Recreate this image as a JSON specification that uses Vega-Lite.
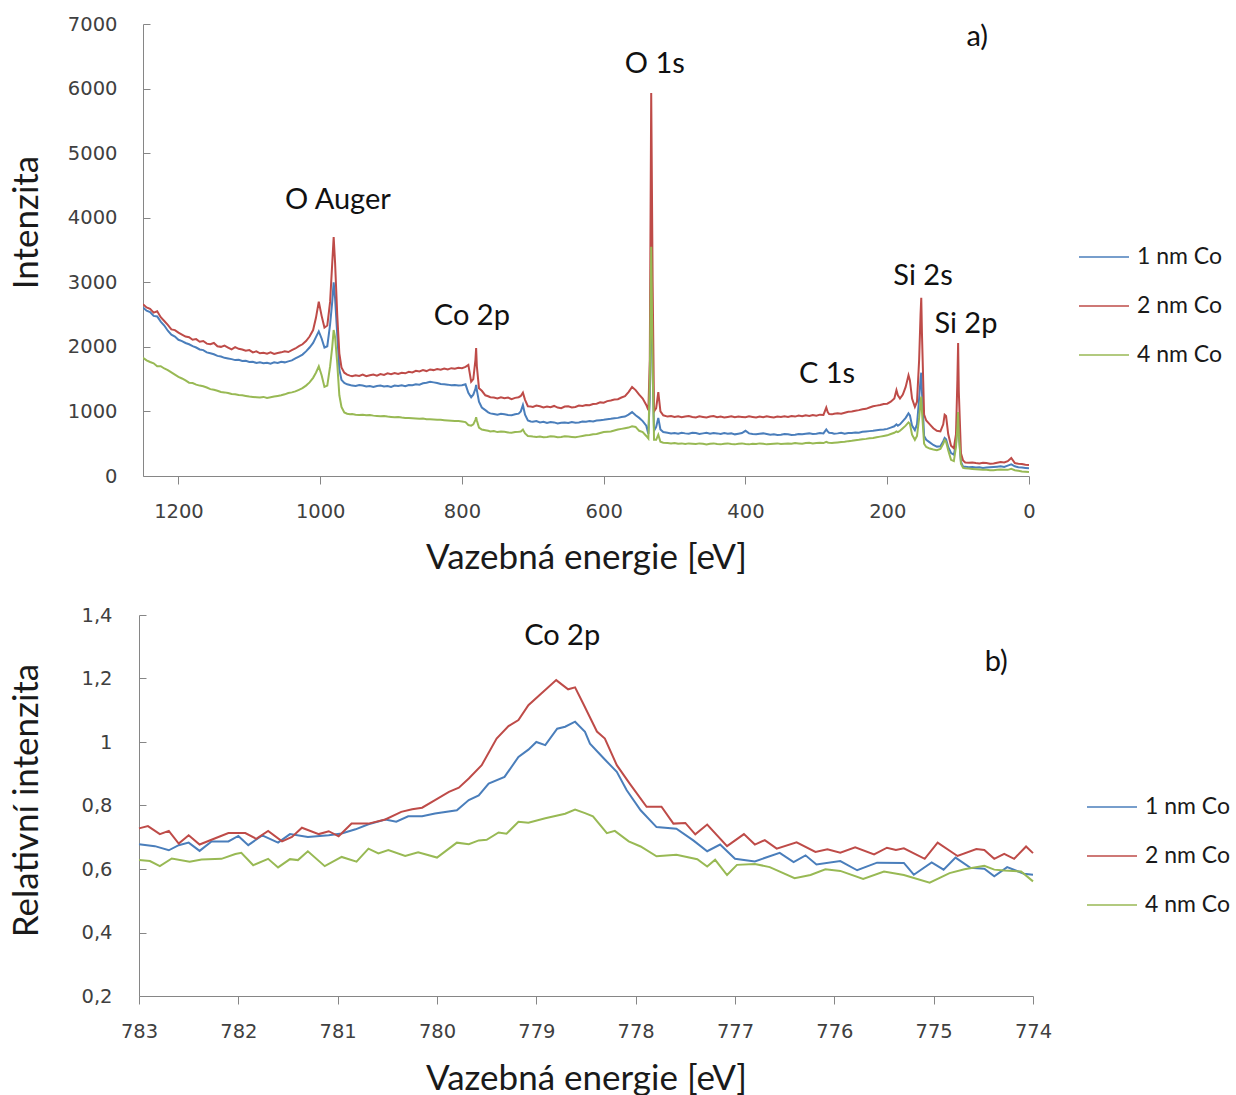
{
  "$schema": "https://vega.github.io/schema/vega-lite/v6.json",
  "background": "white",
  "padding": {"left": 8, "top": 14, "right": 0, "bottom": 0},
  "config": {
    "view": {"stroke": null},
    "axis": {
      "grid": false,
      "domainColor": "#868686",
      "tickColor": "#868686",
      "labelFont": "DejaVu Sans",
      "labelFontSize": 19.5,
      "labelColor": "#404040",
      "labelFlush": false,
      "labelOverlap": false,
      "titleFont": "Lato",
      "titleFontSize": 35,
      "titleFontWeight": "normal",
      "titleColor": "#1a1a1a"
    },
    "legend": {
      "orient": "none",
      "title": null,
      "symbolType": "stroke",
      "symbolSize": 2500,
      "symbolStrokeWidth": 1.6,
      "labelFont": "Lato",
      "labelFontSize": 23,
      "labelColor": "#1a1a1a",
      "labelOffset": 7,
      "rowPadding": 11
    }
  },
  "vconcat": [
    {
      "width": 886,
      "height": 452,
      "layer": [
        {
          "data": {"values": [
            {"e":1250,"1 nm Co":2610,"2 nm Co":2660,"4 nm Co":1830},
            {"e":1245,"1 nm Co":2560,"2 nm Co":2610,"4 nm Co":1790},
            {"e":1240,"1 nm Co":2540,"2 nm Co":2590,"4 nm Co":1765},
            {"e":1235,"1 nm Co":2480,"2 nm Co":2530,"4 nm Co":1745},
            {"e":1230,"1 nm Co":2470,"2 nm Co":2550,"4 nm Co":1700},
            {"e":1225,"1 nm Co":2390,"2 nm Co":2460,"4 nm Co":1700},
            {"e":1220,"1 nm Co":2330,"2 nm Co":2400,"4 nm Co":1665},
            {"e":1215,"1 nm Co":2250,"2 nm Co":2340,"4 nm Co":1640},
            {"e":1210,"1 nm Co":2190,"2 nm Co":2270,"4 nm Co":1605},
            {"e":1205,"1 nm Co":2160,"2 nm Co":2260,"4 nm Co":1570},
            {"e":1200,"1 nm Co":2110,"2 nm Co":2220,"4 nm Co":1535},
            {"e":1195,"1 nm Co":2090,"2 nm Co":2190,"4 nm Co":1510},
            {"e":1190,"1 nm Co":2060,"2 nm Co":2160,"4 nm Co":1480},
            {"e":1185,"1 nm Co":2040,"2 nm Co":2150,"4 nm Co":1445},
            {"e":1180,"1 nm Co":2010,"2 nm Co":2110,"4 nm Co":1440},
            {"e":1175,"1 nm Co":1990,"2 nm Co":2120,"4 nm Co":1415},
            {"e":1170,"1 nm Co":1960,"2 nm Co":2080,"4 nm Co":1400},
            {"e":1165,"1 nm Co":1950,"2 nm Co":2090,"4 nm Co":1390},
            {"e":1160,"1 nm Co":1915,"2 nm Co":2050,"4 nm Co":1370},
            {"e":1155,"1 nm Co":1900,"2 nm Co":2040,"4 nm Co":1345},
            {"e":1150,"1 nm Co":1885,"2 nm Co":2060,"4 nm Co":1335},
            {"e":1145,"1 nm Co":1860,"2 nm Co":2010,"4 nm Co":1320},
            {"e":1140,"1 nm Co":1850,"2 nm Co":2000,"4 nm Co":1300},
            {"e":1135,"1 nm Co":1830,"2 nm Co":2020,"4 nm Co":1295},
            {"e":1130,"1 nm Co":1820,"2 nm Co":1990,"4 nm Co":1285},
            {"e":1125,"1 nm Co":1810,"2 nm Co":1960,"4 nm Co":1270},
            {"e":1120,"1 nm Co":1795,"2 nm Co":1995,"4 nm Co":1265},
            {"e":1115,"1 nm Co":1800,"2 nm Co":1970,"4 nm Co":1255},
            {"e":1110,"1 nm Co":1780,"2 nm Co":1960,"4 nm Co":1250},
            {"e":1105,"1 nm Co":1785,"2 nm Co":1940,"4 nm Co":1240},
            {"e":1100,"1 nm Co":1765,"2 nm Co":1950,"4 nm Co":1230},
            {"e":1095,"1 nm Co":1770,"2 nm Co":1915,"4 nm Co":1225},
            {"e":1090,"1 nm Co":1750,"2 nm Co":1930,"4 nm Co":1220},
            {"e":1085,"1 nm Co":1760,"2 nm Co":1900,"4 nm Co":1215},
            {"e":1080,"1 nm Co":1745,"2 nm Co":1910,"4 nm Co":1225},
            {"e":1075,"1 nm Co":1755,"2 nm Co":1895,"4 nm Co":1210},
            {"e":1070,"1 nm Co":1740,"2 nm Co":1915,"4 nm Co":1220},
            {"e":1065,"1 nm Co":1760,"2 nm Co":1890,"4 nm Co":1230},
            {"e":1060,"1 nm Co":1750,"2 nm Co":1905,"4 nm Co":1240},
            {"e":1055,"1 nm Co":1770,"2 nm Co":1915,"4 nm Co":1250},
            {"e":1050,"1 nm Co":1760,"2 nm Co":1930,"4 nm Co":1265},
            {"e":1045,"1 nm Co":1775,"2 nm Co":1920,"4 nm Co":1285},
            {"e":1040,"1 nm Co":1790,"2 nm Co":1950,"4 nm Co":1295},
            {"e":1035,"1 nm Co":1820,"2 nm Co":1975,"4 nm Co":1310},
            {"e":1030,"1 nm Co":1850,"2 nm Co":2010,"4 nm Co":1335},
            {"e":1025,"1 nm Co":1880,"2 nm Co":2040,"4 nm Co":1360},
            {"e":1020,"1 nm Co":1930,"2 nm Co":2090,"4 nm Co":1400},
            {"e":1015,"1 nm Co":1990,"2 nm Co":2160,"4 nm Co":1450},
            {"e":1010,"1 nm Co":2060,"2 nm Co":2260,"4 nm Co":1520},
            {"e":1006,"1 nm Co":2150,"2 nm Co":2450,"4 nm Co":1600},
            {"e":1002,"1 nm Co":2240,"2 nm Co":2700,"4 nm Co":1700},
            {"e":998,"1 nm Co":2130,"2 nm Co":2480,"4 nm Co":1560},
            {"e":994,"1 nm Co":1990,"2 nm Co":2300,"4 nm Co":1380},
            {"e":990,"1 nm Co":2010,"2 nm Co":2330,"4 nm Co":1400},
            {"e":986,"1 nm Co":2350,"2 nm Co":2700,"4 nm Co":1700},
            {"e":983,"1 nm Co":2700,"2 nm Co":3300,"4 nm Co":2000},
            {"e":981,"1 nm Co":3000,"2 nm Co":3700,"4 nm Co":2260},
            {"e":979,"1 nm Co":2750,"2 nm Co":3300,"4 nm Co":2150},
            {"e":976,"1 nm Co":2200,"2 nm Co":2500,"4 nm Co":1750},
            {"e":973,"1 nm Co":1650,"2 nm Co":1900,"4 nm Co":1250},
            {"e":970,"1 nm Co":1490,"2 nm Co":1680,"4 nm Co":1070},
            {"e":966,"1 nm Co":1440,"2 nm Co":1600,"4 nm Co":985},
            {"e":962,"1 nm Co":1420,"2 nm Co":1570,"4 nm Co":965},
            {"e":958,"1 nm Co":1410,"2 nm Co":1555,"4 nm Co":955},
            {"e":955,"1 nm Co":1400,"2 nm Co":1545,"4 nm Co":960},
            {"e":950,"1 nm Co":1395,"2 nm Co":1560,"4 nm Co":950},
            {"e":945,"1 nm Co":1410,"2 nm Co":1550,"4 nm Co":945},
            {"e":940,"1 nm Co":1400,"2 nm Co":1570,"4 nm Co":950},
            {"e":935,"1 nm Co":1385,"2 nm Co":1545,"4 nm Co":940},
            {"e":930,"1 nm Co":1395,"2 nm Co":1560,"4 nm Co":945},
            {"e":925,"1 nm Co":1380,"2 nm Co":1570,"4 nm Co":935},
            {"e":920,"1 nm Co":1395,"2 nm Co":1555,"4 nm Co":930},
            {"e":915,"1 nm Co":1400,"2 nm Co":1580,"4 nm Co":925},
            {"e":910,"1 nm Co":1385,"2 nm Co":1565,"4 nm Co":930},
            {"e":905,"1 nm Co":1395,"2 nm Co":1590,"4 nm Co":920},
            {"e":900,"1 nm Co":1380,"2 nm Co":1575,"4 nm Co":915},
            {"e":895,"1 nm Co":1400,"2 nm Co":1595,"4 nm Co":910},
            {"e":890,"1 nm Co":1395,"2 nm Co":1580,"4 nm Co":915},
            {"e":885,"1 nm Co":1405,"2 nm Co":1600,"4 nm Co":905},
            {"e":880,"1 nm Co":1390,"2 nm Co":1590,"4 nm Co":900},
            {"e":875,"1 nm Co":1410,"2 nm Co":1615,"4 nm Co":900},
            {"e":870,"1 nm Co":1405,"2 nm Co":1605,"4 nm Co":895},
            {"e":865,"1 nm Co":1420,"2 nm Co":1630,"4 nm Co":890},
            {"e":860,"1 nm Co":1415,"2 nm Co":1620,"4 nm Co":885},
            {"e":855,"1 nm Co":1435,"2 nm Co":1640,"4 nm Co":890},
            {"e":850,"1 nm Co":1445,"2 nm Co":1625,"4 nm Co":880},
            {"e":845,"1 nm Co":1460,"2 nm Co":1650,"4 nm Co":880},
            {"e":840,"1 nm Co":1450,"2 nm Co":1640,"4 nm Co":875},
            {"e":835,"1 nm Co":1440,"2 nm Co":1655,"4 nm Co":870},
            {"e":830,"1 nm Co":1425,"2 nm Co":1645,"4 nm Co":870},
            {"e":825,"1 nm Co":1420,"2 nm Co":1665,"4 nm Co":865},
            {"e":820,"1 nm Co":1415,"2 nm Co":1650,"4 nm Co":860},
            {"e":815,"1 nm Co":1405,"2 nm Co":1670,"4 nm Co":855},
            {"e":810,"1 nm Co":1410,"2 nm Co":1660,"4 nm Co":850},
            {"e":805,"1 nm Co":1400,"2 nm Co":1675,"4 nm Co":850},
            {"e":800,"1 nm Co":1405,"2 nm Co":1670,"4 nm Co":845},
            {"e":795,"1 nm Co":1420,"2 nm Co":1690,"4 nm Co":835},
            {"e":791,"1 nm Co":1290,"2 nm Co":1720,"4 nm Co":790},
            {"e":787,"1 nm Co":1220,"2 nm Co":1460,"4 nm Co":780},
            {"e":784,"1 nm Co":1260,"2 nm Co":1500,"4 nm Co":800},
            {"e":781,"1 nm Co":1350,"2 nm Co":1800,"4 nm Co":870},
            {"e":780,"1 nm Co":1410,"2 nm Co":1980,"4 nm Co":910},
            {"e":779,"1 nm Co":1330,"2 nm Co":1700,"4 nm Co":860},
            {"e":776,"1 nm Co":1150,"2 nm Co":1360,"4 nm Co":750},
            {"e":772,"1 nm Co":1060,"2 nm Co":1320,"4 nm Co":720},
            {"e":767,"1 nm Co":1020,"2 nm Co":1250,"4 nm Co":710},
            {"e":763,"1 nm Co":985,"2 nm Co":1235,"4 nm Co":700},
            {"e":760,"1 nm Co":970,"2 nm Co":1220,"4 nm Co":690},
            {"e":755,"1 nm Co":960,"2 nm Co":1215,"4 nm Co":695},
            {"e":750,"1 nm Co":950,"2 nm Co":1200,"4 nm Co":680},
            {"e":745,"1 nm Co":965,"2 nm Co":1220,"4 nm Co":690},
            {"e":740,"1 nm Co":955,"2 nm Co":1205,"4 nm Co":685},
            {"e":735,"1 nm Co":945,"2 nm Co":1215,"4 nm Co":675},
            {"e":730,"1 nm Co":940,"2 nm Co":1190,"4 nm Co":670},
            {"e":725,"1 nm Co":955,"2 nm Co":1210,"4 nm Co":680},
            {"e":720,"1 nm Co":965,"2 nm Co":1220,"4 nm Co":685},
            {"e":717,"1 nm Co":1000,"2 nm Co":1240,"4 nm Co":690},
            {"e":714,"1 nm Co":1100,"2 nm Co":1290,"4 nm Co":720},
            {"e":711,"1 nm Co":950,"2 nm Co":1180,"4 nm Co":660},
            {"e":707,"1 nm Co":860,"2 nm Co":1080,"4 nm Co":620},
            {"e":703,"1 nm Co":845,"2 nm Co":1075,"4 nm Co":615},
            {"e":700,"1 nm Co":840,"2 nm Co":1070,"4 nm Co":610},
            {"e":695,"1 nm Co":850,"2 nm Co":1090,"4 nm Co":605},
            {"e":690,"1 nm Co":830,"2 nm Co":1080,"4 nm Co":610},
            {"e":685,"1 nm Co":840,"2 nm Co":1060,"4 nm Co":600},
            {"e":680,"1 nm Co":820,"2 nm Co":1075,"4 nm Co":605},
            {"e":675,"1 nm Co":835,"2 nm Co":1065,"4 nm Co":615},
            {"e":670,"1 nm Co":830,"2 nm Co":1085,"4 nm Co":610},
            {"e":665,"1 nm Co":815,"2 nm Co":1060,"4 nm Co":600},
            {"e":660,"1 nm Co":825,"2 nm Co":1050,"4 nm Co":605},
            {"e":655,"1 nm Co":830,"2 nm Co":1075,"4 nm Co":615},
            {"e":650,"1 nm Co":820,"2 nm Co":1080,"4 nm Co":610},
            {"e":645,"1 nm Co":835,"2 nm Co":1060,"4 nm Co":605},
            {"e":640,"1 nm Co":825,"2 nm Co":1070,"4 nm Co":600},
            {"e":635,"1 nm Co":830,"2 nm Co":1090,"4 nm Co":610},
            {"e":630,"1 nm Co":845,"2 nm Co":1085,"4 nm Co":620},
            {"e":625,"1 nm Co":840,"2 nm Co":1100,"4 nm Co":630},
            {"e":620,"1 nm Co":850,"2 nm Co":1095,"4 nm Co":635},
            {"e":615,"1 nm Co":845,"2 nm Co":1115,"4 nm Co":645},
            {"e":610,"1 nm Co":860,"2 nm Co":1120,"4 nm Co":650},
            {"e":605,"1 nm Co":865,"2 nm Co":1140,"4 nm Co":665},
            {"e":600,"1 nm Co":870,"2 nm Co":1135,"4 nm Co":680},
            {"e":595,"1 nm Co":880,"2 nm Co":1160,"4 nm Co":685},
            {"e":590,"1 nm Co":885,"2 nm Co":1170,"4 nm Co":690},
            {"e":585,"1 nm Co":895,"2 nm Co":1185,"4 nm Co":705},
            {"e":580,"1 nm Co":900,"2 nm Co":1190,"4 nm Co":720},
            {"e":575,"1 nm Co":915,"2 nm Co":1215,"4 nm Co":730},
            {"e":570,"1 nm Co":920,"2 nm Co":1235,"4 nm Co":740},
            {"e":565,"1 nm Co":950,"2 nm Co":1300,"4 nm Co":750},
            {"e":560,"1 nm Co":990,"2 nm Co":1380,"4 nm Co":770},
            {"e":555,"1 nm Co":940,"2 nm Co":1330,"4 nm Co":760},
            {"e":550,"1 nm Co":900,"2 nm Co":1260,"4 nm Co":700},
            {"e":545,"1 nm Co":850,"2 nm Co":1200,"4 nm Co":680},
            {"e":540,"1 nm Co":780,"2 nm Co":1100,"4 nm Co":620},
            {"e":537,"1 nm Co":650,"2 nm Co":1020,"4 nm Co":580},
            {"e":535,"1 nm Co":1200,"2 nm Co":1800,"4 nm Co":1500},
            {"e":533,"1 nm Co":3450,"2 nm Co":5930,"4 nm Co":3550},
            {"e":531,"1 nm Co":1600,"2 nm Co":3000,"4 nm Co":1700},
            {"e":529,"1 nm Co":700,"2 nm Co":1000,"4 nm Co":560},
            {"e":526,"1 nm Co":760,"2 nm Co":1050,"4 nm Co":560},
            {"e":523,"1 nm Co":900,"2 nm Co":1300,"4 nm Co":640},
            {"e":520,"1 nm Co":720,"2 nm Co":1000,"4 nm Co":530},
            {"e":516,"1 nm Co":680,"2 nm Co":940,"4 nm Co":515},
            {"e":510,"1 nm Co":670,"2 nm Co":920,"4 nm Co":510},
            {"e":505,"1 nm Co":660,"2 nm Co":930,"4 nm Co":505},
            {"e":500,"1 nm Co":665,"2 nm Co":915,"4 nm Co":510},
            {"e":495,"1 nm Co":655,"2 nm Co":925,"4 nm Co":500},
            {"e":490,"1 nm Co":670,"2 nm Co":910,"4 nm Co":505},
            {"e":485,"1 nm Co":660,"2 nm Co":920,"4 nm Co":495},
            {"e":480,"1 nm Co":655,"2 nm Co":930,"4 nm Co":505},
            {"e":475,"1 nm Co":670,"2 nm Co":915,"4 nm Co":500},
            {"e":470,"1 nm Co":665,"2 nm Co":905,"4 nm Co":495},
            {"e":465,"1 nm Co":650,"2 nm Co":925,"4 nm Co":505},
            {"e":460,"1 nm Co":660,"2 nm Co":915,"4 nm Co":500},
            {"e":455,"1 nm Co":670,"2 nm Co":905,"4 nm Co":490},
            {"e":450,"1 nm Co":655,"2 nm Co":920,"4 nm Co":500},
            {"e":445,"1 nm Co":665,"2 nm Co":930,"4 nm Co":505},
            {"e":440,"1 nm Co":660,"2 nm Co":910,"4 nm Co":495},
            {"e":435,"1 nm Co":650,"2 nm Co":920,"4 nm Co":490},
            {"e":430,"1 nm Co":665,"2 nm Co":905,"4 nm Co":500},
            {"e":425,"1 nm Co":655,"2 nm Co":915,"4 nm Co":505},
            {"e":420,"1 nm Co":660,"2 nm Co":925,"4 nm Co":495},
            {"e":415,"1 nm Co":645,"2 nm Co":910,"4 nm Co":490},
            {"e":410,"1 nm Co":655,"2 nm Co":920,"4 nm Co":500},
            {"e":405,"1 nm Co":665,"2 nm Co":915,"4 nm Co":505},
            {"e":400,"1 nm Co":700,"2 nm Co":910,"4 nm Co":495},
            {"e":395,"1 nm Co":660,"2 nm Co":925,"4 nm Co":490},
            {"e":390,"1 nm Co":650,"2 nm Co":915,"4 nm Co":500},
            {"e":385,"1 nm Co":645,"2 nm Co":905,"4 nm Co":495},
            {"e":380,"1 nm Co":655,"2 nm Co":920,"4 nm Co":505},
            {"e":375,"1 nm Co":660,"2 nm Co":910,"4 nm Co":500},
            {"e":370,"1 nm Co":650,"2 nm Co":925,"4 nm Co":490},
            {"e":365,"1 nm Co":640,"2 nm Co":915,"4 nm Co":495},
            {"e":360,"1 nm Co":645,"2 nm Co":905,"4 nm Co":500},
            {"e":355,"1 nm Co":635,"2 nm Co":920,"4 nm Co":505},
            {"e":350,"1 nm Co":640,"2 nm Co":915,"4 nm Co":495},
            {"e":345,"1 nm Co":650,"2 nm Co":925,"4 nm Co":500},
            {"e":340,"1 nm Co":645,"2 nm Co":915,"4 nm Co":505},
            {"e":335,"1 nm Co":635,"2 nm Co":930,"4 nm Co":500},
            {"e":330,"1 nm Co":640,"2 nm Co":920,"4 nm Co":510},
            {"e":325,"1 nm Co":650,"2 nm Co":935,"4 nm Co":505},
            {"e":320,"1 nm Co":645,"2 nm Co":925,"4 nm Co":500},
            {"e":315,"1 nm Co":655,"2 nm Co":940,"4 nm Co":510},
            {"e":310,"1 nm Co":660,"2 nm Co":930,"4 nm Co":515},
            {"e":305,"1 nm Co":650,"2 nm Co":945,"4 nm Co":505},
            {"e":300,"1 nm Co":655,"2 nm Co":935,"4 nm Co":510},
            {"e":295,"1 nm Co":665,"2 nm Co":950,"4 nm Co":515},
            {"e":290,"1 nm Co":660,"2 nm Co":945,"4 nm Co":510},
            {"e":286,"1 nm Co":720,"2 nm Co":1060,"4 nm Co":530},
            {"e":284,"1 nm Co":690,"2 nm Co":990,"4 nm Co":520},
            {"e":282,"1 nm Co":670,"2 nm Co":960,"4 nm Co":515},
            {"e":278,"1 nm Co":665,"2 nm Co":955,"4 nm Co":510},
            {"e":275,"1 nm Co":655,"2 nm Co":965,"4 nm Co":515},
            {"e":270,"1 nm Co":660,"2 nm Co":970,"4 nm Co":520},
            {"e":265,"1 nm Co":670,"2 nm Co":965,"4 nm Co":525},
            {"e":260,"1 nm Co":655,"2 nm Co":980,"4 nm Co":530},
            {"e":255,"1 nm Co":665,"2 nm Co":995,"4 nm Co":540},
            {"e":250,"1 nm Co":665,"2 nm Co":1000,"4 nm Co":545},
            {"e":245,"1 nm Co":675,"2 nm Co":1010,"4 nm Co":555},
            {"e":240,"1 nm Co":670,"2 nm Co":1020,"4 nm Co":560},
            {"e":235,"1 nm Co":685,"2 nm Co":1035,"4 nm Co":570},
            {"e":230,"1 nm Co":690,"2 nm Co":1040,"4 nm Co":575},
            {"e":225,"1 nm Co":695,"2 nm Co":1060,"4 nm Co":585},
            {"e":220,"1 nm Co":700,"2 nm Co":1080,"4 nm Co":590},
            {"e":215,"1 nm Co":710,"2 nm Co":1090,"4 nm Co":600},
            {"e":210,"1 nm Co":715,"2 nm Co":1100,"4 nm Co":610},
            {"e":205,"1 nm Co":720,"2 nm Co":1115,"4 nm Co":620},
            {"e":200,"1 nm Co":730,"2 nm Co":1120,"4 nm Co":630},
            {"e":195,"1 nm Co":750,"2 nm Co":1150,"4 nm Co":650},
            {"e":190,"1 nm Co":770,"2 nm Co":1200,"4 nm Co":670},
            {"e":187,"1 nm Co":800,"2 nm Co":1330,"4 nm Co":690},
            {"e":185,"1 nm Co":780,"2 nm Co":1250,"4 nm Co":680},
            {"e":182,"1 nm Co":800,"2 nm Co":1200,"4 nm Co":700},
            {"e":178,"1 nm Co":850,"2 nm Co":1260,"4 nm Co":740},
            {"e":174,"1 nm Co":900,"2 nm Co":1380,"4 nm Co":780},
            {"e":170,"1 nm Co":970,"2 nm Co":1560,"4 nm Co":830},
            {"e":168,"1 nm Co":940,"2 nm Co":1480,"4 nm Co":810},
            {"e":165,"1 nm Co":780,"2 nm Co":1200,"4 nm Co":640},
            {"e":161,"1 nm Co":710,"2 nm Co":1070,"4 nm Co":560},
            {"e":158,"1 nm Co":800,"2 nm Co":1150,"4 nm Co":620},
            {"e":155,"1 nm Co":1200,"2 nm Co":1800,"4 nm Co":900},
            {"e":153,"1 nm Co":1500,"2 nm Co":2500,"4 nm Co":1150},
            {"e":152,"1 nm Co":1600,"2 nm Co":2760,"4 nm Co":1230},
            {"e":151,"1 nm Co":1300,"2 nm Co":2200,"4 nm Co":1000},
            {"e":148,"1 nm Co":620,"2 nm Co":950,"4 nm Co":500},
            {"e":145,"1 nm Co":560,"2 nm Co":860,"4 nm Co":450},
            {"e":140,"1 nm Co":520,"2 nm Co":800,"4 nm Co":425},
            {"e":135,"1 nm Co":480,"2 nm Co":740,"4 nm Co":410},
            {"e":130,"1 nm Co":455,"2 nm Co":700,"4 nm Co":400},
            {"e":125,"1 nm Co":460,"2 nm Co":690,"4 nm Co":420},
            {"e":121,"1 nm Co":540,"2 nm Co":800,"4 nm Co":500},
            {"e":119,"1 nm Co":590,"2 nm Co":950,"4 nm Co":555},
            {"e":117,"1 nm Co":570,"2 nm Co":930,"4 nm Co":530},
            {"e":114,"1 nm Co":450,"2 nm Co":650,"4 nm Co":400},
            {"e":110,"1 nm Co":356,"2 nm Co":470,"4 nm Co":250},
            {"e":106,"1 nm Co":330,"2 nm Co":430,"4 nm Co":230},
            {"e":103,"1 nm Co":500,"2 nm Co":650,"4 nm Co":450},
            {"e":101,"1 nm Co":800,"2 nm Co":1500,"4 nm Co":750},
            {"e":100,"1 nm Co":990,"2 nm Co":2060,"4 nm Co":990},
            {"e":99,"1 nm Co":650,"2 nm Co":1300,"4 nm Co":640},
            {"e":96,"1 nm Co":220,"2 nm Co":350,"4 nm Co":190},
            {"e":93,"1 nm Co":145,"2 nm Co":240,"4 nm Co":125},
            {"e":90,"1 nm Co":145,"2 nm Co":210,"4 nm Co":120},
            {"e":85,"1 nm Co":135,"2 nm Co":205,"4 nm Co":115},
            {"e":80,"1 nm Co":140,"2 nm Co":210,"4 nm Co":110},
            {"e":75,"1 nm Co":130,"2 nm Co":200,"4 nm Co":105},
            {"e":70,"1 nm Co":135,"2 nm Co":195,"4 nm Co":100},
            {"e":65,"1 nm Co":125,"2 nm Co":205,"4 nm Co":95},
            {"e":60,"1 nm Co":130,"2 nm Co":200,"4 nm Co":95},
            {"e":55,"1 nm Co":135,"2 nm Co":190,"4 nm Co":90},
            {"e":50,"1 nm Co":140,"2 nm Co":195,"4 nm Co":90},
            {"e":45,"1 nm Co":145,"2 nm Co":205,"4 nm Co":95},
            {"e":40,"1 nm Co":150,"2 nm Co":215,"4 nm Co":100},
            {"e":35,"1 nm Co":140,"2 nm Co":210,"4 nm Co":95},
            {"e":30,"1 nm Co":160,"2 nm Co":230,"4 nm Co":95},
            {"e":25,"1 nm Co":180,"2 nm Co":280,"4 nm Co":110},
            {"e":20,"1 nm Co":150,"2 nm Co":200,"4 nm Co":90},
            {"e":15,"1 nm Co":135,"2 nm Co":190,"4 nm Co":80},
            {"e":10,"1 nm Co":130,"2 nm Co":185,"4 nm Co":70},
            {"e":5,"1 nm Co":125,"2 nm Co":175,"4 nm Co":65},
            {"e":0,"1 nm Co":120,"2 nm Co":170,"4 nm Co":60}
          ]},
          "transform": [{"fold": ["1 nm Co", "2 nm Co", "4 nm Co"], "as": ["s", "v"]}],
          "mark": {"type": "line", "strokeWidth": 2, "clip": true},
          "encoding": {
            "x": {
              "field": "e", "type": "quantitative",
              "scale": {"domain": [0, 1250], "reverse": true, "nice": false, "zero": false},
              "axis": {
                "title": "Vazebná energie [eV]",
                "values": [0, 200, 400, 600, 800, 1000, 1200],
                "format": "d",
                "tickSize": 8,
                "labelPadding": 18,
                "titleY": 81,
                "titleBaseline": "middle"
              }
            },
            "y": {
              "field": "v", "type": "quantitative",
              "scale": {"domain": [0, 7000], "nice": false},
              "axis": {
                "title": "Intenzita",
                "values": [0, 1000, 2000, 3000, 4000, 5000, 6000, 7000],
                "format": "d",
                "tickSize": -7,
                "labelPadding": 33,
                "titleX": -117,
                "titleY": 198,
                "titleAlign": "center",
                "titleBaseline": "middle",
                "titleAngle": -90
              }
            },
            "color": {
              "field": "s", "type": "nominal",
              "scale": {"domain": ["1 nm Co", "2 nm Co", "4 nm Co"], "range": ["#4A7EBB", "#BE4B48", "#98B954"]},
              "legend": {"legendX": 935, "legendY": 207}
            }
          }
        },
        {
          "data": {"values": [
            {"e": 975, "v": 4274, "t": "O Auger"},
            {"e": 786, "v": 2478, "t": "Co 2p"},
            {"e": 528, "v": 6381, "t": "O 1s"},
            {"e": 285, "v": 1580, "t": "C 1s"},
            {"e": 149.5, "v": 3097, "t": "Si 2s"},
            {"e": 89, "v": 2354, "t": "Si 2p"},
            {"e": 73, "v": 6799, "t": "a)"}
          ]},
          "mark": {"type": "text", "font": "Lato", "fontSize": 29, "color": "#111", "align": "center", "baseline": "middle"},
          "encoding": {
            "x": {"field": "e", "type": "quantitative"},
            "y": {"field": "v", "type": "quantitative"},
            "text": {"field": "t"}
          }
        }
      ]
    },
    {
      "width": 894,
      "height": 381,
      "layer": [
        {
          "data": {"values": [
            {"e":783.00,"s":"1 nm Co","v":0.678},{"e":782.84,"s":"1 nm Co","v":0.672},{"e":782.70,"s":"1 nm Co","v":0.659},{"e":782.60,"s":"1 nm Co","v":0.675},
            {"e":782.50,"s":"1 nm Co","v":0.683},{"e":782.39,"s":"1 nm Co","v":0.657},{"e":782.27,"s":"1 nm Co","v":0.687},{"e":782.10,"s":"1 nm Co","v":0.687},
            {"e":782.00,"s":"1 nm Co","v":0.704},{"e":781.90,"s":"1 nm Co","v":0.675},{"e":781.76,"s":"1 nm Co","v":0.706},{"e":781.60,"s":"1 nm Co","v":0.683},
            {"e":781.48,"s":"1 nm Co","v":0.710},{"e":781.30,"s":"1 nm Co","v":0.701},{"e":781.09,"s":"1 nm Co","v":0.706},{"e":780.96,"s":"1 nm Co","v":0.712},
            {"e":780.82,"s":"1 nm Co","v":0.725},{"e":780.69,"s":"1 nm Co","v":0.741},{"e":780.52,"s":"1 nm Co","v":0.756},{"e":780.41,"s":"1 nm Co","v":0.749},
            {"e":780.29,"s":"1 nm Co","v":0.766},{"e":780.15,"s":"1 nm Co","v":0.766},{"e":780.02,"s":"1 nm Co","v":0.775},{"e":779.80,"s":"1 nm Co","v":0.785},
            {"e":779.68,"s":"1 nm Co","v":0.817},{"e":779.58,"s":"1 nm Co","v":0.832},{"e":779.48,"s":"1 nm Co","v":0.869},{"e":779.32,"s":"1 nm Co","v":0.890},
            {"e":779.18,"s":"1 nm Co","v":0.953},{"e":779.08,"s":"1 nm Co","v":0.976},{"e":779.00,"s":"1 nm Co","v":1.000},{"e":778.91,"s":"1 nm Co","v":0.990},
            {"e":778.79,"s":"1 nm Co","v":1.042},{"e":778.71,"s":"1 nm Co","v":1.048},{"e":778.61,"s":"1 nm Co","v":1.064},{"e":778.51,"s":"1 nm Co","v":1.032},
            {"e":778.46,"s":"1 nm Co","v":0.995},{"e":778.32,"s":"1 nm Co","v":0.948},{"e":778.19,"s":"1 nm Co","v":0.906},{"e":778.09,"s":"1 nm Co","v":0.848},
            {"e":777.95,"s":"1 nm Co","v":0.785},{"e":777.79,"s":"1 nm Co","v":0.732},{"e":777.59,"s":"1 nm Co","v":0.727},{"e":777.42,"s":"1 nm Co","v":0.690},
            {"e":777.28,"s":"1 nm Co","v":0.656},{"e":777.15,"s":"1 nm Co","v":0.677},{"e":777.00,"s":"1 nm Co","v":0.632},{"e":776.80,"s":"1 nm Co","v":0.624},
            {"e":776.55,"s":"1 nm Co","v":0.651},{"e":776.41,"s":"1 nm Co","v":0.622},{"e":776.29,"s":"1 nm Co","v":0.643},{"e":776.18,"s":"1 nm Co","v":0.614},
            {"e":775.94,"s":"1 nm Co","v":0.625},{"e":775.77,"s":"1 nm Co","v":0.596},{"e":775.57,"s":"1 nm Co","v":0.620},{"e":775.30,"s":"1 nm Co","v":0.619},
            {"e":775.20,"s":"1 nm Co","v":0.582},{"e":775.02,"s":"1 nm Co","v":0.621},{"e":774.90,"s":"1 nm Co","v":0.598},{"e":774.78,"s":"1 nm Co","v":0.636},
            {"e":774.63,"s":"1 nm Co","v":0.604},{"e":774.49,"s":"1 nm Co","v":0.601},{"e":774.39,"s":"1 nm Co","v":0.577},{"e":774.26,"s":"1 nm Co","v":0.606},
            {"e":774.09,"s":"1 nm Co","v":0.585},{"e":774.00,"s":"1 nm Co","v":0.582},

            {"e":783.00,"s":"2 nm Co","v":0.728},{"e":782.91,"s":"2 nm Co","v":0.735},{"e":782.79,"s":"2 nm Co","v":0.710},{"e":782.70,"s":"2 nm Co","v":0.720},
            {"e":782.60,"s":"2 nm Co","v":0.680},{"e":782.50,"s":"2 nm Co","v":0.706},{"e":782.39,"s":"2 nm Co","v":0.677},{"e":782.27,"s":"2 nm Co","v":0.692},
            {"e":782.10,"s":"2 nm Co","v":0.713},{"e":781.93,"s":"2 nm Co","v":0.713},{"e":781.82,"s":"2 nm Co","v":0.695},{"e":781.70,"s":"2 nm Co","v":0.720},
            {"e":781.56,"s":"2 nm Co","v":0.687},{"e":781.46,"s":"2 nm Co","v":0.701},{"e":781.36,"s":"2 nm Co","v":0.730},{"e":781.19,"s":"2 nm Co","v":0.710},
            {"e":781.09,"s":"2 nm Co","v":0.719},{"e":780.99,"s":"2 nm Co","v":0.703},{"e":780.86,"s":"2 nm Co","v":0.743},{"e":780.69,"s":"2 nm Co","v":0.743},
            {"e":780.52,"s":"2 nm Co","v":0.756},{"e":780.36,"s":"2 nm Co","v":0.780},{"e":780.25,"s":"2 nm Co","v":0.788},{"e":780.15,"s":"2 nm Co","v":0.793},
            {"e":780.02,"s":"2 nm Co","v":0.817},{"e":779.88,"s":"2 nm Co","v":0.843},{"e":779.78,"s":"2 nm Co","v":0.856},{"e":779.68,"s":"2 nm Co","v":0.885},
            {"e":779.55,"s":"2 nm Co","v":0.927},{"e":779.40,"s":"2 nm Co","v":1.011},{"e":779.28,"s":"2 nm Co","v":1.050},{"e":779.18,"s":"2 nm Co","v":1.069},
            {"e":779.08,"s":"2 nm Co","v":1.116},{"e":778.95,"s":"2 nm Co","v":1.153},{"e":778.80,"s":"2 nm Co","v":1.195},{"e":778.68,"s":"2 nm Co","v":1.166},
            {"e":778.61,"s":"2 nm Co","v":1.172},{"e":778.53,"s":"2 nm Co","v":1.122},{"e":778.39,"s":"2 nm Co","v":1.033},{"e":778.31,"s":"2 nm Co","v":1.011},
            {"e":778.19,"s":"2 nm Co","v":0.927},{"e":778.06,"s":"2 nm Co","v":0.869},{"e":777.89,"s":"2 nm Co","v":0.796},{"e":777.74,"s":"2 nm Co","v":0.796},
            {"e":777.62,"s":"2 nm Co","v":0.743},{"e":777.50,"s":"2 nm Co","v":0.745},{"e":777.40,"s":"2 nm Co","v":0.709},{"e":777.28,"s":"2 nm Co","v":0.740},
            {"e":777.08,"s":"2 nm Co","v":0.672},{"e":776.91,"s":"2 nm Co","v":0.710},{"e":776.80,"s":"2 nm Co","v":0.677},{"e":776.70,"s":"2 nm Co","v":0.691},
            {"e":776.58,"s":"2 nm Co","v":0.664},{"e":776.38,"s":"2 nm Co","v":0.684},{"e":776.19,"s":"2 nm Co","v":0.654},{"e":776.07,"s":"2 nm Co","v":0.662},
            {"e":775.94,"s":"2 nm Co","v":0.651},{"e":775.79,"s":"2 nm Co","v":0.668},{"e":775.60,"s":"2 nm Co","v":0.646},{"e":775.47,"s":"2 nm Co","v":0.667},
            {"e":775.38,"s":"2 nm Co","v":0.660},{"e":775.30,"s":"2 nm Co","v":0.665},{"e":775.09,"s":"2 nm Co","v":0.632},{"e":774.96,"s":"2 nm Co","v":0.683},
            {"e":774.76,"s":"2 nm Co","v":0.641},{"e":774.57,"s":"2 nm Co","v":0.663},{"e":774.49,"s":"2 nm Co","v":0.660},{"e":774.39,"s":"2 nm Co","v":0.632},
            {"e":774.29,"s":"2 nm Co","v":0.648},{"e":774.19,"s":"2 nm Co","v":0.632},{"e":774.07,"s":"2 nm Co","v":0.671},{"e":774.00,"s":"2 nm Co","v":0.650},

            {"e":783.00,"s":"4 nm Co","v":0.628},{"e":782.89,"s":"4 nm Co","v":0.625},{"e":782.79,"s":"4 nm Co","v":0.609},{"e":782.67,"s":"4 nm Co","v":0.633},
            {"e":782.49,"s":"4 nm Co","v":0.623},{"e":782.37,"s":"4 nm Co","v":0.630},{"e":782.17,"s":"4 nm Co","v":0.632},{"e":782.03,"s":"4 nm Co","v":0.647},
            {"e":781.97,"s":"4 nm Co","v":0.651},{"e":781.85,"s":"4 nm Co","v":0.612},{"e":781.70,"s":"4 nm Co","v":0.632},{"e":781.60,"s":"4 nm Co","v":0.605},
            {"e":781.48,"s":"4 nm Co","v":0.631},{"e":781.40,"s":"4 nm Co","v":0.628},{"e":781.30,"s":"4 nm Co","v":0.656},{"e":781.13,"s":"4 nm Co","v":0.609},
            {"e":780.96,"s":"4 nm Co","v":0.638},{"e":780.81,"s":"4 nm Co","v":0.623},{"e":780.69,"s":"4 nm Co","v":0.664},{"e":780.59,"s":"4 nm Co","v":0.649},
            {"e":780.49,"s":"4 nm Co","v":0.660},{"e":780.32,"s":"4 nm Co","v":0.641},{"e":780.19,"s":"4 nm Co","v":0.653},{"e":780.00,"s":"4 nm Co","v":0.636},
            {"e":779.80,"s":"4 nm Co","v":0.683},{"e":779.68,"s":"4 nm Co","v":0.678},{"e":779.58,"s":"4 nm Co","v":0.690},{"e":779.50,"s":"4 nm Co","v":0.692},
            {"e":779.38,"s":"4 nm Co","v":0.715},{"e":779.30,"s":"4 nm Co","v":0.711},{"e":779.18,"s":"4 nm Co","v":0.749},{"e":779.08,"s":"4 nm Co","v":0.746},
            {"e":778.91,"s":"4 nm Co","v":0.760},{"e":778.71,"s":"4 nm Co","v":0.774},{"e":778.61,"s":"4 nm Co","v":0.787},{"e":778.51,"s":"4 nm Co","v":0.776},
            {"e":778.43,"s":"4 nm Co","v":0.766},{"e":778.29,"s":"4 nm Co","v":0.713},{"e":778.21,"s":"4 nm Co","v":0.720},{"e":778.07,"s":"4 nm Co","v":0.687},
            {"e":777.95,"s":"4 nm Co","v":0.671},{"e":777.79,"s":"4 nm Co","v":0.640},{"e":777.59,"s":"4 nm Co","v":0.645},{"e":777.38,"s":"4 nm Co","v":0.631},
            {"e":777.28,"s":"4 nm Co","v":0.608},{"e":777.20,"s":"4 nm Co","v":0.629},{"e":777.08,"s":"4 nm Co","v":0.581},{"e":776.98,"s":"4 nm Co","v":0.613},
            {"e":776.80,"s":"4 nm Co","v":0.616},{"e":776.65,"s":"4 nm Co","v":0.606},{"e":776.40,"s":"4 nm Co","v":0.571},{"e":776.24,"s":"4 nm Co","v":0.581},
            {"e":776.09,"s":"4 nm Co","v":0.599},{"e":775.94,"s":"4 nm Co","v":0.594},{"e":775.71,"s":"4 nm Co","v":0.569},{"e":775.50,"s":"4 nm Co","v":0.592},
            {"e":775.30,"s":"4 nm Co","v":0.581},{"e":775.04,"s":"4 nm Co","v":0.557},{"e":774.84,"s":"4 nm Co","v":0.587},{"e":774.69,"s":"4 nm Co","v":0.599},
            {"e":774.49,"s":"4 nm Co","v":0.610},{"e":774.39,"s":"4 nm Co","v":0.598},{"e":774.29,"s":"4 nm Co","v":0.595},{"e":774.12,"s":"4 nm Co","v":0.592},
            {"e":774.00,"s":"4 nm Co","v":0.561}
          ]},
          "mark": {"type": "line", "strokeWidth": 2},
          "encoding": {
            "x": {
              "field": "e", "type": "quantitative",
              "scale": {"domain": [774, 783], "reverse": true, "nice": false, "zero": false},
              "axis": {
                "title": "Vazebná energie [eV]",
                "values": [774, 775, 776, 777, 778, 779, 780, 781, 782, 783],
                "format": "d",
                "tickSize": 8,
                "labelPadding": 18,
                "titleY": 82,
                "titleBaseline": "middle"
              }
            },
            "y": {
              "field": "v", "type": "quantitative",
              "scale": {"domain": [0.2, 1.4], "nice": false, "zero": false},
              "axis": {
                "title": "Relativní intenzita",
                "values": [0.2, 0.4, 0.6, 0.8, 1, 1.2, 1.4],
                "labelExpr": "replace(format(datum.value, '.1~f'), '.', ',')",
                "tickSize": -7,
                "labelPadding": 34,
                "titleX": -113,
                "titleY": 185,
                "titleAlign": "center",
                "titleBaseline": "middle",
                "titleAngle": -90
              }
            },
            "color": {
              "field": "s", "type": "nominal",
              "scale": {"domain": ["1 nm Co", "2 nm Co", "4 nm Co"], "range": ["#4A7EBB", "#BE4B48", "#98B954"]},
              "legend": {"legendX": 947, "legendY": 166}
            }
          }
        },
        {
          "data": {"values": [
            {"e": 778.74, "v": 1.334, "t": "Co 2p"},
            {"e": 774.37, "v": 1.252, "t": "b)"}
          ]},
          "mark": {"type": "text", "font": "Lato", "fontSize": 29, "color": "#111", "align": "center", "baseline": "middle"},
          "encoding": {
            "x": {"field": "e", "type": "quantitative"},
            "y": {"field": "v", "type": "quantitative"},
            "text": {"field": "t"}
          }
        }
      ]
    }
  ],
  "spacing": 139,
  "bounds": "flush",
  "center": true,
  "resolve": {"legend": {"color": "independent"}}
}
